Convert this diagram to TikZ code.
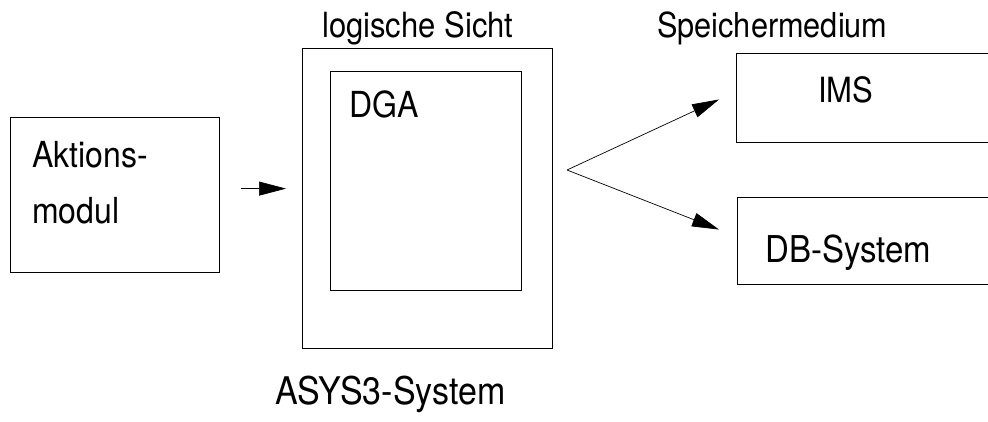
\documentclass[tikz,border=0pt]{standalone}
\usepackage{fontspec}
\usepackage{graphicx}
\setmainfont{TeX Gyre Heros}
\usetikzlibrary{arrows.meta}

% Schrift im Original etwas hoeher als breit
\newcommand{\hoch}[1]{\scalebox{1}[1.12]{#1}}

\begin{document}
\begin{tikzpicture}[x=1pt,y=-1pt,>={Triangle[length=27pt,width=14pt]},
    box/.style={draw, line width=1.2pt, inner sep=0pt, anchor=north west},
    txt/.style={inner sep=0pt, anchor=base west, font=\fontsize{#1}{#1}\selectfont},
    txt/.default=32,
    pfeil/.style={->, line width=0.7pt}]

                \useasboundingbox (0,0) rectangle (988,421);

                \node[box, minimum width=209pt, minimum height=155pt] (akt)  at (10,117) {};
                \node[box, minimum width=250pt, minimum height=300pt] (asys) at (302,48) {};
                \node[box, minimum width=191pt, minimum height=219pt] (dga)  at (330,71) {};
                \node[box, minimum width=280pt, minimum height=89pt]  (ims)  at (736,53) {};
                \node[box, minimum width=280pt, minimum height=87pt]  (db)   at (737,197) {};
                \coordinate (fork) at (567,170);

                \node[txt]      (akt1)   at (32,167)  {\hoch{Aktions-}};
                \node[txt]      (akt2)   at (32,223)  {\hoch{modul}};
                \node[txt]      (dgat)   at (349,117) {\hoch{DGA}};
                \node[txt=31]   (sicht)  at (322,37)  {\hoch{logische Sicht}};
                \node[txt=30.7] (speich) at (657,37)  {\hoch{Speichermedium}};
                \node[txt=31]   (imst)   at (818,102) {\hoch{IMS}};
                \node[txt=33]   (dbt)    at (765,262) {\hoch{DB-System}};
                \node[txt=34]   (asyst)  at (275,404) {\hoch{ASYS3-System}};

                \draw[pfeil, shorten <=21pt, shorten >=16pt] ([yshift=6.5pt]akt.east) -- ([yshift=10pt]asys.west);
                \draw[pfeil, shorten >=18.7pt] (fork) -- ([yshift=6.5pt]ims.west);
                \draw[pfeil, shorten >=19.3pt] (fork) -- ([yshift=4.5pt]db.west);

                ;
            \end{tikzpicture}
\end{document}
